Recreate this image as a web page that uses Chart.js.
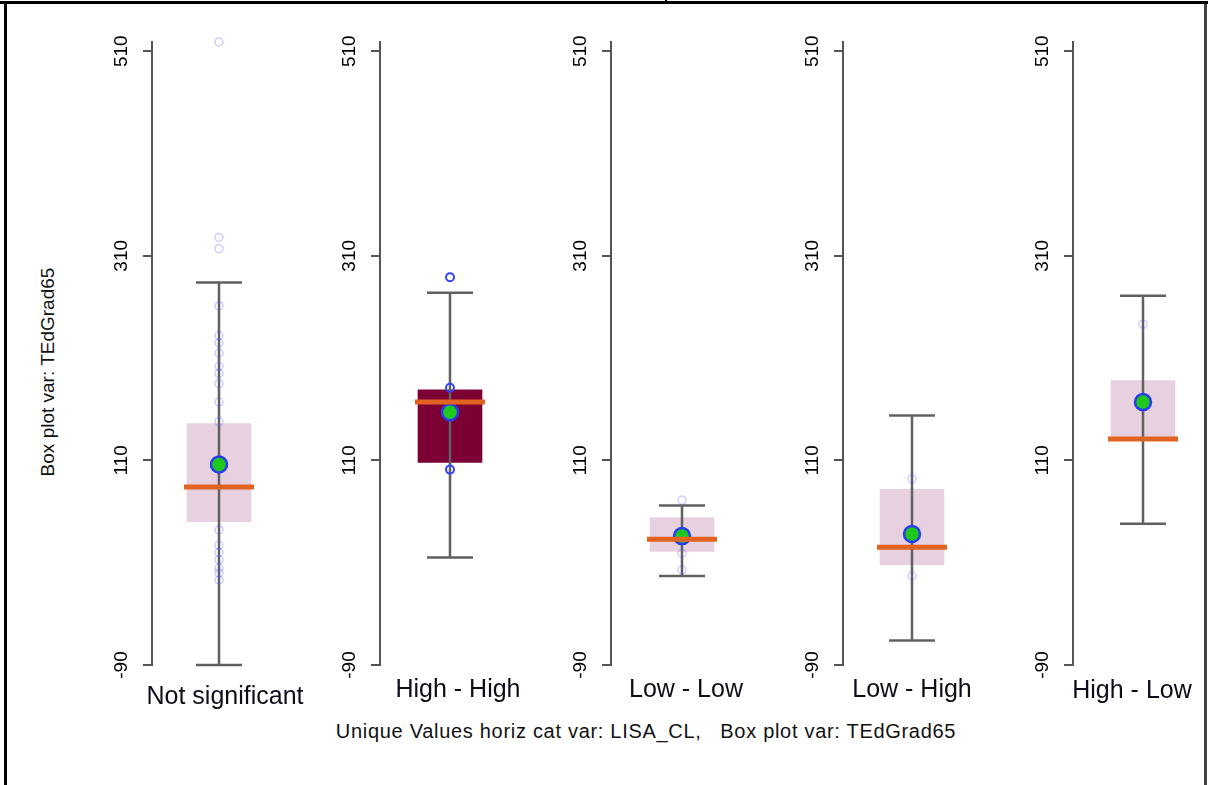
<!DOCTYPE html>
<html>
<head>
<meta charset="utf-8">
<script src="https://cdn.jsdelivr.net/npm/chart.js@4.4.1/dist/chart.umd.min.js"></script>
<style>
  html, body { margin: 0; padding: 0; background: #fff; overflow: hidden; }
  #page { position: relative; width: 1208px; height: 785px; font-family: 'Liberation Sans', Arial, sans-serif; }
  .panel { position: absolute; top: 0; }
  .line { position: absolute; background: #000; }
  #ytitle { position: absolute; left: 47px; top: 372px; font-size: 19px; line-height: 1; color: #111;
            white-space: nowrap; transform: translate(-50%, -50%) rotate(-90deg); }
  #caption { position: absolute; left: 646px; top: 721px; font-size: 20px; line-height: 1; color: #111;
             white-space: pre; letter-spacing: 0.7px; transform: translateX(-50%); }
</style>
</head>
<body>
<div id="page">
  <div class="line" style="left:0;top:1px;width:1208px;height:3px;"></div>
  <div class="line" style="left:665px;top:0;width:2px;height:4px;"></div>
  <div class="line" style="left:4px;top:4px;width:3px;height:781px;"></div>
  <div class="line" style="left:1204px;top:4px;width:3px;height:781px;background:#444;"></div>
  <div id="ytitle">Box plot var: TEdGrad65</div>
  <div id="caption">Unique Values horiz cat var: LISA_CL,   Box plot var: TEdGrad65</div>
</div>
<script>
// data
var categories = ['Not significant', 'High - High', 'Low - Low', 'Low - High', 'High - Low'];
var whiskerLow = [-90, 15, -3, -66, 48];
var q1 = [50, 108, 21, 8, 132];
var median = [84, 167, 33, 25, 131];
var q3 = [146, 179, 54, 82, 188];
var whiskerHigh = [284, 274, 66, 154, 271];
var mean = [106, 157, 36, 38, 167];
var points = [
  [519, 328, 317, 261, 232, 225, 215, 202, 195, 185, 167, 148, 42, 27, 20, 13, 5, 0, -7],
  [289, 181, 101],
  [71, 19, 3],
  [92, -3],
  [243]
];
var yTicks = [-90, 110, 310, 510];
var yMin = -90, yMax = 519;
var selected = 1; // the highlighted category

// layout
var axisX = [152, 380, 611, 843, 1073];
var plotW = [134, 140, 142, 138, 140];
var labelPad = [9, 2, 2, 2, 3];
var labelShift = [6, 8, 4, 0, -11];
var AXIS_W = 60, PAD_R = 60, X_H = 60, CANVAS_H = 725;
var FONT = "'Liberation Sans', Arial, sans-serif";

var page = document.getElementById('page');

categories.forEach(function (cat, i) {
  var div = document.createElement('div');
  div.className = 'panel';
  div.style.left = (axisX[i] - AXIS_W) + 'px';
  div.style.width = (AXIS_W + plotW[i] + PAD_R) + 'px';
  div.style.height = CANVAS_H + 'px';
  var canvas = document.createElement('canvas');
  div.appendChild(canvas);
  page.appendChild(div);

  var sel = i === selected;
  var whisker = [{x: cat, y: whiskerLow[i]}, {x: cat, y: whiskerHigh[i]}];

  new Chart(canvas, {
    type: 'bar',
    data: {
      labels: [cat],
      datasets: [
        { // median
          type: 'line', data: [{x: cat, y: median[i]}], showLine: false,
          pointStyle: 'line', pointRadius: 35, pointBorderWidth: 5, pointBorderColor: '#e2621f',
          order: 1, clip: false
        },
        { // mean
          type: 'line', data: [{x: cat, y: mean[i]}], showLine: false,
          pointRadius: 8, pointBackgroundColor: '#1ec81e', pointBorderColor: '#2a3cf0', pointBorderWidth: 2.5,
          order: 2, clip: false
        },
        { // observations
          type: 'line', data: points[i].map(function (v) { return {x: cat, y: v}; }), showLine: false,
          pointRadius: 4, pointBackgroundColor: 'rgba(0,0,0,0)',
          pointBorderColor: sel ? '#3344f5' : 'rgba(90,90,255,0.3)', pointBorderWidth: sel ? 2 : 1.5,
          order: 3, clip: false
        },
        { // whisker caps
          type: 'line', data: whisker, showLine: false,
          pointStyle: 'line', pointRadius: 23, pointBorderWidth: 2.5, pointBorderColor: '#606060',
          order: 4, clip: false
        },
        { // whisker
          type: 'line', data: whisker, borderColor: '#606060', borderWidth: 2.5, pointRadius: 0,
          order: 5, clip: false
        },
        { // box
          type: 'bar', data: [[q1[i], q3[i]]],
          backgroundColor: sel ? '#7d0035' : '#e7d1e1', barThickness: 64, borderWidth: 0,
          order: 6
        }
      ]
    },
    options: {
      responsive: true,
      maintainAspectRatio: false,
      animation: false,
      events: [],
      layout: { padding: { top: 42, right: PAD_R, bottom: 0, left: 0 } },
      plugins: { legend: { display: false }, tooltip: { enabled: false } },
      scales: {
        x: {
          grid: { display: false },
          border: { display: false },
          ticks: {
            font: { family: FONT, size: 25 }, color: '#0d0d1a',
            padding: labelPad[i], labelOffset: labelShift[i], maxRotation: 0, autoSkip: false
          },
          afterFit: function (s) { s.height = X_H; s.paddingLeft = 0; s.paddingRight = 0; }
        },
        y: {
          min: yMin,
          max: yMax,
          afterBuildTicks: function (s) { s.ticks = yTicks.map(function (v) { return {value: v}; }); },
          afterFit: function (s) { s.width = AXIS_W; },
          grid: { drawOnChartArea: false, drawTicks: true, tickLength: 9, color: '#555', lineWidth: 2 },
          border: { display: true, color: '#555', width: 2 },
          ticks: {
            minRotation: 90, maxRotation: 90, crossAlign: 'center', padding: 5,
            font: { family: FONT, size: 19 }, color: '#000'
          }
        }
      }
    }
  });
});
</script>
</body>
</html>
